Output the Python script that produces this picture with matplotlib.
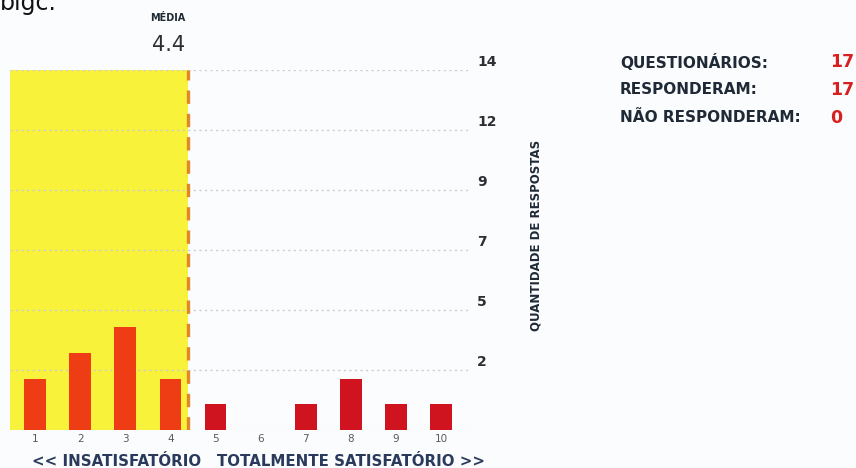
import numpy as np
import matplotlib.pyplot as plt

scores = [1, 2, 3, 4, 5, 6, 7, 8, 9, 10]
counts = [2, 3, 4, 2, 1, 0, 1, 2, 1, 1]
grid_vals = [14 * k / 6 for k in range(1, 7)]
grid_labels = ["2", "5", "7", "9", "12", "14"]
media = 4.4
summary_names = ["QUESTIONÁRIOS:", "RESPONDERAM:", "NÃO RESPONDERAM:"]
summary_vals = ["17", "17", "0"]

navy = "#1f2a36"
fig = plt.figure(figsize=(8.56, 4.68), dpi=100)
fig.patch.set_facecolor("#fbfcfd")
ax = fig.add_axes([10 / 856, 1 - 430 / 468, 460 / 856, 360 / 468])
ax.set_facecolor("none")
ax.set_xlim(0.447, 10.64)
ax.set_ylim(0, 14)

# yellow zone up to the mean
ax.axvspan(0.447, media, color="#f8f23a", zorder=0, lw=0)

for g in grid_vals:
    ax.axhline(g, color="#c9ccd0", lw=1.0, ls=(0, (1.5, 2.5)), zorder=1)
ax.axhline(0, color="#d8d8d8", lw=0.8, zorder=1)

colors = ["#ee3d14" if s <= 4 else "#cf1420" for s in scores]
ax.bar(scores, counts, width=0.48, color=colors, zorder=3)

ax.axvline(media, color="#e2862a", lw=2.4, ls=(0, (4, 3)), zorder=4)

for s in ax.spines.values():
    s.set_visible(False)
ax.set_yticks([])
ax.set_xticks(scores)
ax.set_xticklabels([str(s) for s in scores], fontsize=7.5, color="#555b60")
ax.tick_params(axis="x", length=0, pad=3)

for v, lab in zip(grid_vals, grid_labels):
    ax.annotate(lab, xy=(1.0, v), xycoords=("axes fraction", "data"),
                xytext=(5, 6), textcoords="offset points",
                ha="left", va="center", fontsize=10, fontweight="bold", color="#2b2f33")

fig.text(536 / 856, 1 - 235 / 468, "QUANTIDADE DE RESPOSTAS", rotation=90,
         ha="center", va="center", fontsize=8.5, fontweight="bold", color=navy)

fig.text(258 / 856, 1 - 462 / 468, "<< INSATISFATÓRIO   TOTALMENTE SATISFATÓRIO >>",
         ha="center", va="center", fontsize=10.8, fontweight="bold", color="#2a3a5c")

fig.text(185 / 856, 1 - 18 / 468, "MÉDIA", ha="right", va="center",
         fontsize=7, fontweight="bold", color=navy)
fig.text(185 / 856, 1 - 45 / 468, str(media), ha="right", va="center",
         fontsize=15, color="#2b2f33")

fig.text(0.0, 1 - 10 / 468, "bigc.", ha="left", va="baseline",
         fontsize=17, color="#111111")

for i, (n, v) in enumerate(zip(summary_names, summary_vals)):
    y = 1 - (62 + 28 * i) / 468
    fig.text(620 / 856, y, n, ha="left", va="center", fontsize=11,
             fontweight="bold", color=navy)
    fig.text(830 / 856, y, v, ha="left", va="center", fontsize=12.5,
             fontweight="bold", color="#d81e1e")

fig.savefig("out.png", dpi=100, facecolor=fig.get_facecolor())
